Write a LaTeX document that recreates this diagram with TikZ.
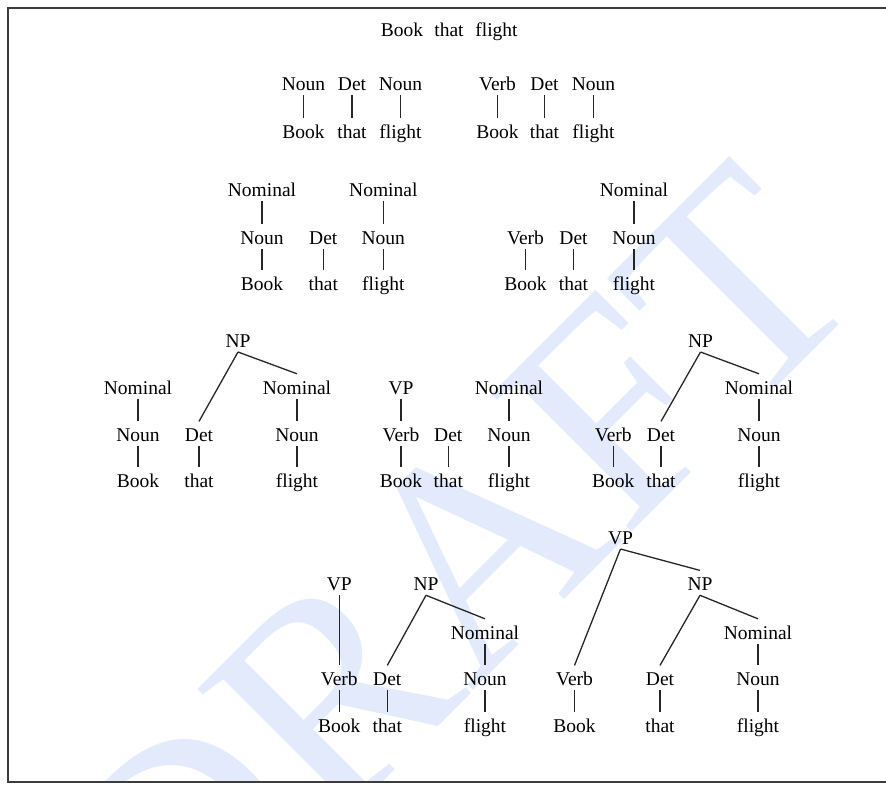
\documentclass[tikz,border=0pt]{standalone}
\usepackage{fontspec}
\setmainfont{Liberation Serif}
\definecolor{wmblue}{RGB}{227,234,252}
\definecolor{framegray}{RGB}{60,60,60}
\begin{document}
\begin{tikzpicture}[x=1pt,y=-1pt,
  w/.style={anchor=base,inner sep=2pt,text height=18pt,text depth=2.5pt,
            font=\fontsize{19.5}{22}\selectfont},
  edge/.style={line width=1.3pt,draw=black!85}]
\useasboundingbox (0,0) rectangle (886,785);

% watermark
\begin{scope}
  \clip (8,8) rectangle (886,782);
  \node[rotate=45,text=wmblue,inner sep=0pt,
        font=\fontsize{300}{300}\selectfont] (wmark) at (455,570) {DRAFT};
\end{scope}

% page frame
\draw[framegray,line width=2pt] (886,8) -- (8,8) -- (8,782) -- (886,782);

% input sentence
\node[w] (s1) at (402,36.6) {Book};
\node[w] (s2) at (449,36.6) {that};
\node[w] (s3) at (496.5,36.6) {flight};

% level 1: lexical categories
\node[w] (a1) at (303.5,90.6) {Noun};
\node[w] (a2) at (352,90.6) {Det};
\node[w] (a3) at (400.5,90.6) {Noun};
\node[w] (aw1) at (303.5,138.6) {Book};
\node[w] (aw2) at (352,138.6) {that};
\node[w] (aw3) at (400.5,138.6) {flight};

\node[w] (b1) at (497.5,90.6) {Verb};
\node[w] (b2) at (544.5,90.6) {Det};
\node[w] (b3) at (593.5,90.6) {Noun};
\node[w] (bw1) at (497.5,138.6) {Book};
\node[w] (bw2) at (544.5,138.6) {that};
\node[w] (bw3) at (593.5,138.6) {flight};

% level 2: Nominal
\node[w] (c0a) at (262,196) {Nominal};
\node[w] (c0b) at (383.3,196) {Nominal};
\node[w] (c1) at (262,244.6) {Noun};
\node[w] (c2) at (323.3,244.6) {Det};
\node[w] (c3) at (383.3,244.6) {Noun};
\node[w] (cw1) at (262,290) {Book};
\node[w] (cw2) at (323.3,290) {that};
\node[w] (cw3) at (383.3,290) {flight};

\node[w] (d0) at (634,196) {Nominal};
\node[w] (d1) at (525.5,244.6) {Verb};
\node[w] (d2) at (573.5,244.6) {Det};
\node[w] (d3) at (634,244.6) {Noun};
\node[w] (dw1) at (525.5,290) {Book};
\node[w] (dw2) at (573.5,290) {that};
\node[w] (dw3) at (634,290) {flight};

% level 3
\node[w] (eNP) at (238,347.3) {NP};
\node[w] (e0a) at (138,394) {Nominal};
\node[w] (e0b) at (297,394) {Nominal};
\node[w] (e1) at (138,441.6) {Noun};
\node[w] (e2) at (199,441.6) {Det};
\node[w] (e3) at (297,441.6) {Noun};
\node[w] (ew1) at (138,487.6) {Book};
\node[w] (ew2) at (199,487.6) {that};
\node[w] (ew3) at (297,487.6) {flight};

\node[w] (f0a) at (401,394) {VP};
\node[w] (f0b) at (509,394) {Nominal};
\node[w] (f1) at (401,441.6) {Verb};
\node[w] (f2) at (448.3,441.6) {Det};
\node[w] (f3) at (509,441.6) {Noun};
\node[w] (fw1) at (401,487.6) {Book};
\node[w] (fw2) at (448.3,487.6) {that};
\node[w] (fw3) at (509,487.6) {flight};

\node[w] (gNP) at (700.5,347.3) {NP};
\node[w] (g0) at (759,394) {Nominal};
\node[w] (g1) at (613.3,441.6) {Verb};
\node[w] (g2) at (661,441.6) {Det};
\node[w] (g3) at (759,441.6) {Noun};
\node[w] (gw1) at (613.3,487.6) {Book};
\node[w] (gw2) at (661,487.6) {that};
\node[w] (gw3) at (759,487.6) {flight};

% level 4
\node[w] (hVP) at (339.3,590.6) {VP};
\node[w] (hNP) at (426,590.6) {NP};
\node[w] (h0) at (485,639) {Nominal};
\node[w] (h1) at (339.3,685.6) {Verb};
\node[w] (h2) at (387.3,685.6) {Det};
\node[w] (h3) at (485,685.6) {Noun};
\node[w] (hw1) at (339.3,732.3) {Book};
\node[w] (hw2) at (387.3,732.3) {that};
\node[w] (hw3) at (485,732.3) {flight};

\node[w] (iVP) at (620.5,544.3) {VP};
\node[w] (iNP) at (700,590.6) {NP};
\node[w] (i0) at (758,639) {Nominal};
\node[w] (i1) at (574.5,685.6) {Verb};
\node[w] (i2) at (660,685.6) {Det};
\node[w] (i3) at (758,685.6) {Noun};
\node[w] (iw1) at (574.5,732.3) {Book};
\node[w] (iw2) at (660,732.3) {that};
\node[w] (iw3) at (758,732.3) {flight};

% tree edges
\foreach \p/\c in {a1/aw1,a2/aw2,a3/aw3,b1/bw1,b2/bw2,b3/bw3,
    c0a/c1,c0b/c3,c1/cw1,c2/cw2,c3/cw3,
    d0/d3,d1/dw1,d2/dw2,d3/dw3,
    eNP/e2,eNP/e0b,e0a/e1,e0b/e3,e1/ew1,e2/ew2,e3/ew3,
    f0a/f1,f0b/f3,f1/fw1,f2/fw2,f3/fw3,
    gNP/g2,gNP/g0,g0/g3,g1/gw1,g2/gw2,g3/gw3,
    hVP/h1,hNP/h2,hNP/h0,h0/h3,h1/hw1,h2/hw2,h3/hw3,
    iVP/i1,iVP/iNP,iNP/i2,iNP/i0,i0/i3,i1/iw1,i2/iw2,i3/iw3}
  \draw[edge] (\p.south) -- (\c.north);
\end{tikzpicture}
\end{document}
